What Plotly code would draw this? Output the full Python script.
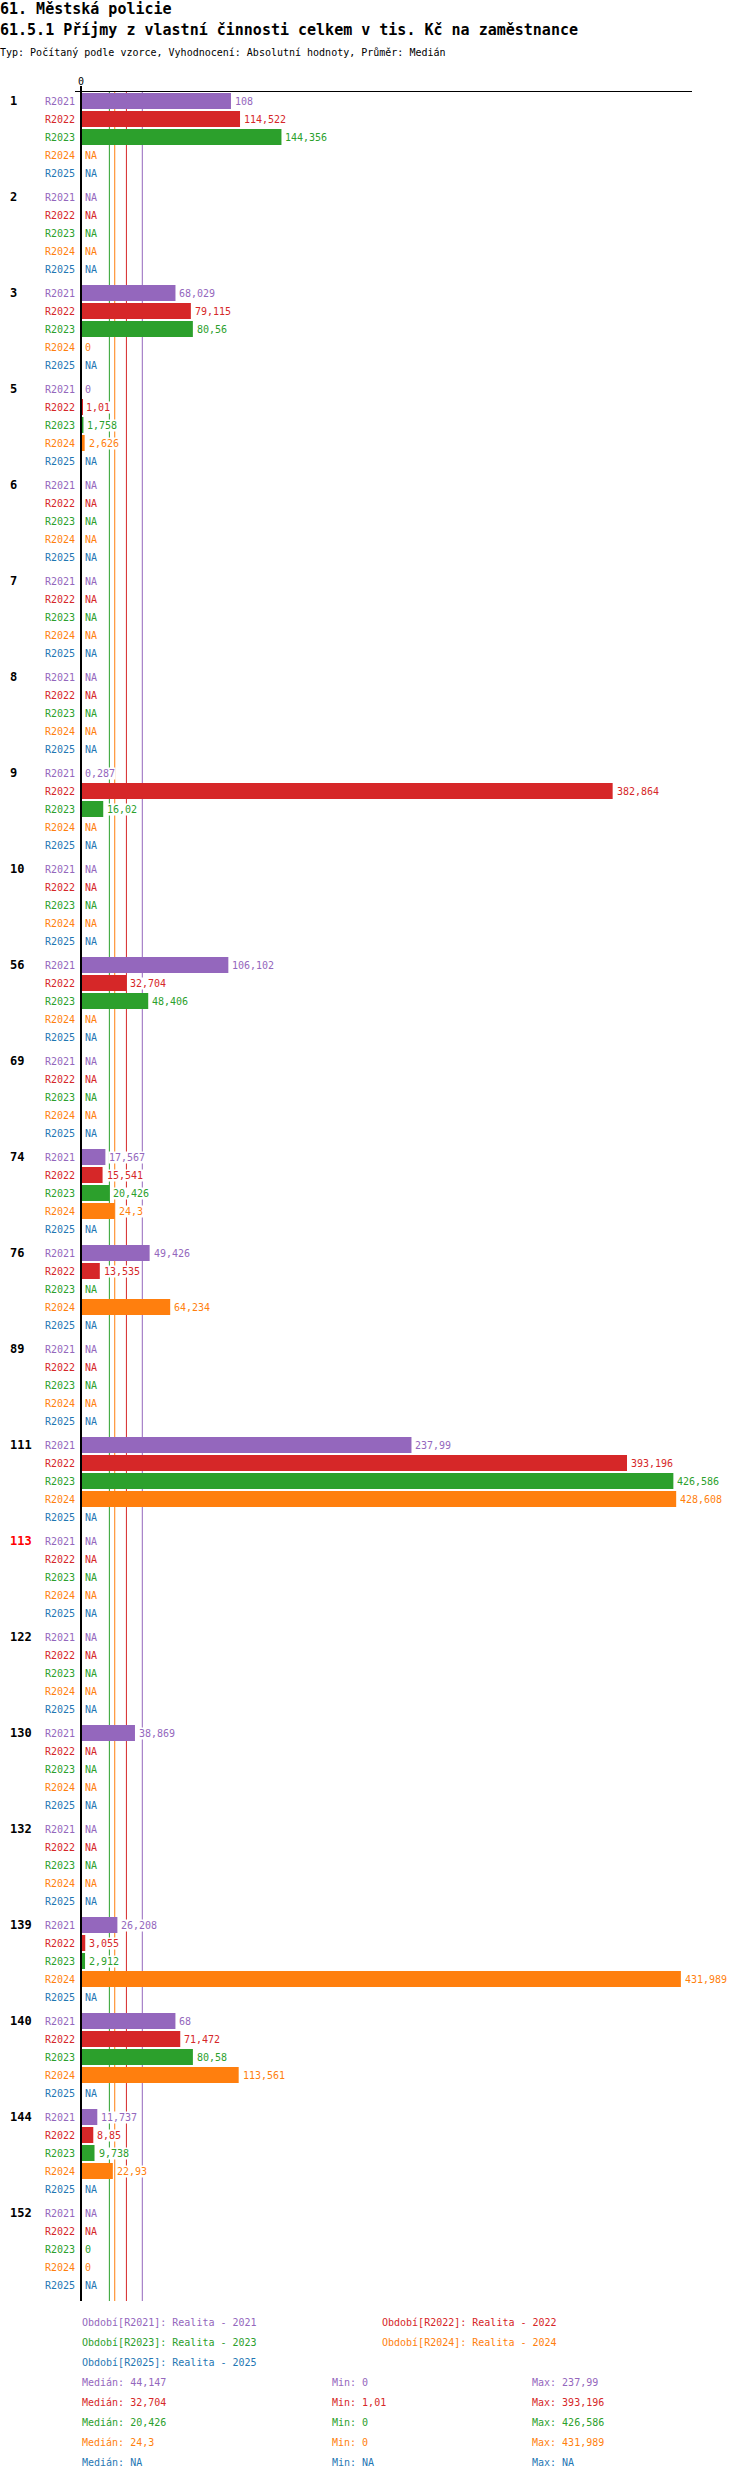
import math
import numpy as np
import plotly.graph_objects as go

W, H = 750, 2480
FONT = "DejaVu Sans Mono"

groups = ["1", "2", "3", "5", "6", "7", "8", "9", "10", "56", "69", "74", "76", "89",
          "111", "113", "122", "130", "132", "139", "140", "144", "152"]
highlighted = ["113"]
periods = ["R2021", "R2022", "R2023", "R2024", "R2025"]
period_names = ["Realita - 2021", "Realita - 2022", "Realita - 2023", "Realita - 2024", "Realita - 2025"]
colors = ["#9467bd", "#d62728", "#2ca02c", "#ff7f0e", "#1f77b4"]

NA = None
r2021 = [108, NA, 68.029, 0, NA, NA, NA, 0.287, NA, 106.102, NA, 17.567, 49.426, NA,
         237.99, NA, NA, 38.869, NA, 26.208, 68, 11.737, NA]
r2022 = [114.522, NA, 79.115, 1.01, NA, NA, NA, 382.864, NA, 32.704, NA, 15.541, 13.535, NA,
         393.196, NA, NA, NA, NA, 3.055, 71.472, 8.85, NA]
r2023 = [144.356, NA, 80.56, 1.758, NA, NA, NA, 16.02, NA, 48.406, NA, 20.426, NA, NA,
         426.586, NA, NA, NA, NA, 2.912, 80.58, 9.738, 0]
r2024 = [NA, NA, 0, 2.626, NA, NA, NA, NA, NA, NA, NA, 24.3, 64.234, NA,
         428.608, NA, NA, NA, NA, 431.989, 113.561, 22.93, 0]
r2025 = [NA, NA, NA, NA, NA, NA, NA, NA, NA, NA, NA, NA, NA, NA,
         NA, NA, NA, NA, NA, NA, NA, NA, NA]
series = [r2021, r2022, r2023, r2024, r2025]

# layout in page pixels
TOP, BOTTOM = 92, 2301          # plot area
FIRST, ROW, GROUP = 101, 18, 96  # row centres
X_LEFT, X_RIGHT = 75, 692
X_MAX = 440
x_min = -X_MAX * (81 - X_LEFT) / (X_RIGHT - 81)


def fmt(v):
    if v is None:
        return "NA"
    v = math.floor(v * 1000 + 1e-6) / 1000  # values are cut, not rounded
    s = f"{v:.3f}".rstrip("0").rstrip(".")
    return s.replace(".", ",")


def py(p):
    return 1 - p / H


fig = go.Figure()
annotations = []

for k, (name, vals, col) in enumerate(zip(periods, series, colors)):
    ys = [FIRST + g * GROUP + k * ROW for g in range(len(groups))]
    xs = [v if v is not None else np.nan for v in vals]
    fig.add_trace(go.Bar(x=xs, y=ys, orientation="h", width=16, marker_color=col,
                         marker_line_width=0, name=name, showlegend=False))
    for y, v in zip(ys, vals):
        # period label left of the axis
        annotations.append(dict(x=77 / W, xref="paper", y=y, yref="y", text=name,
                                xanchor="right", yanchor="middle", showarrow=False,
                                font=dict(family=FONT, size=10, color=col)))
        annotations.append(dict(x=0 if v is None else v, xref="x", y=y, yref="y",
                                text=fmt(v), xanchor="left", yanchor="middle", xshift=3,
                                showarrow=False, bgcolor="white", borderpad=0,
                                font=dict(family=FONT, size=10, color=col)))

for g, label in enumerate(groups):
    annotations.append(dict(x=8 / W, xref="paper", y=FIRST + g * GROUP, yref="y",
                            text=f"<b>{label}</b>", xanchor="left", yanchor="middle",
                            showarrow=False,
                            font=dict(family=FONT, size=12,
                                      color="#ff0000" if label in highlighted else "black")))

# median lines
shapes = []
stats = []
for vals, col in zip(series, colors):
    arr = np.array([v for v in vals if v is not None], dtype=float)
    if len(arr):
        med, mn, mx = np.median(arr), arr.min(), arr.max()
        shapes.append(dict(type="line", xref="x", yref="paper", x0=med, x1=med,
                           y0=py(BOTTOM), y1=py(TOP), layer="below",
                           line=dict(color=col, width=1)))
        stats.append((med, mn, mx))
    else:
        stats.append((None, None, None))

# axis line at zero
shapes.append(dict(type="line", xref="x", yref="paper", x0=0, x1=0, y0=py(BOTTOM), y1=py(86),
                   layer="above", line=dict(color="black", width=2)))
annotations.append(dict(x=0, xref="x", y=py(81), yref="paper", text="0", showarrow=False,
                        xanchor="center", yanchor="middle", font=dict(family=FONT, size=10, color="black")))

# titles
titles = [("<b>61. Městská policie</b>", 9, 15),
          ("<b>61.5.1 Příjmy z vlastní činnosti celkem v tis. Kč na zaměstnance</b>", 30, 15),
          ("Typ: Počítaný podle vzorce, Vyhodnocení: Absolutní hodnoty, Průměr: Medián", 52, 10)]
for text, y, size in titles:
    annotations.append(dict(x=-2 / W, xref="paper", y=py(y), yref="paper", text=text,
                            xanchor="left", yanchor="middle", showarrow=False,
                            font=dict(family=FONT, size=size, color="black")))

# legend
for k, (name, pname, col) in enumerate(zip(periods, period_names, colors)):
    lx = 80 if k % 2 == 0 else 380
    ly = 2322 + (k // 2) * 20
    annotations.append(dict(x=lx / W, xref="paper", y=py(ly), yref="paper",
                            text=f"Období[{name}]: {pname}", xanchor="left", yanchor="middle",
                            showarrow=False, font=dict(family=FONT, size=10, color=col)))
    med, mn, mx = stats[k]
    sy = 2382 + k * 20
    for sx, lab, v in [(80, "Medián", med), (330, "Min", mn), (530, "Max", mx)]:
        annotations.append(dict(x=sx / W, xref="paper", y=py(sy), yref="paper",
                                text=f"{lab}: {fmt(v)}", xanchor="left", yanchor="middle",
                                showarrow=False, font=dict(family=FONT, size=10, color=col)))

fig.update_layout(
    width=W, height=H, autosize=False,
    margin=dict(l=0, r=0, t=0, b=0),
    paper_bgcolor="white", plot_bgcolor="white",
    barmode="overlay", showlegend=False,
    xaxis=dict(domain=[X_LEFT / W, X_RIGHT / W], range=[x_min, X_MAX], side="top",
               showgrid=False, zeroline=False, showticklabels=False, ticks="",
               showline=True, linecolor="black", linewidth=1, fixedrange=True),
    yaxis=dict(domain=[py(BOTTOM), py(TOP)], range=[BOTTOM, TOP], autorange=False,
               showgrid=False, zeroline=False, showticklabels=False, ticks="",
               showline=False, fixedrange=True),
    shapes=shapes,
    annotations=annotations,
    font=dict(family=FONT),
)

# the page's default body margin would shift the whole figure by 8px
fig.write_html("out.html", config={"displayModeBar": False},
               post_script="document.body.style.margin='0';")
